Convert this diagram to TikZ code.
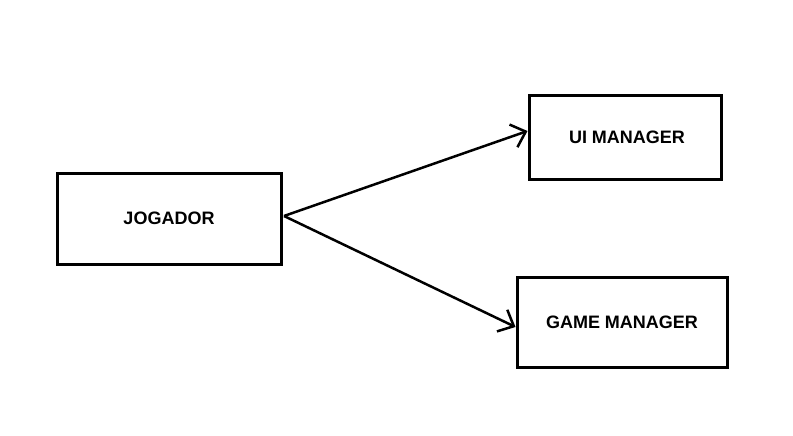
\documentclass[tikz,border=0pt]{standalone}
\usepackage{fontspec}
\setmainfont{Liberation Sans}
\usetikzlibrary{arrows.meta}
\begin{document}
\begin{tikzpicture}[x=1pt,y=-1pt,
  box/.style={draw,line width=3pt,rectangle,inner sep=0pt,font=\fontsize{18}{18}\selectfont\bfseries},
  conn/.style={line width=2.5pt,-{Straight Barb[length=13pt,width=24pt,line width=2.5pt]}}]
\useasboundingbox[fill=white] (0,0) rectangle (793,436);
\node[box,minimum width=224pt,minimum height=91pt] (jog) at (169,218.5) {\raisebox{0pt}{JOGADOR}};
\node[box,minimum width=192pt,minimum height=83pt] (ui) at (625,137.5) {\hspace*{4pt}UI MANAGER};
\node[box,minimum width=210pt,minimum height=90pt] (gm) at (622,322) {GAME MANAGER};
\coordinate (s) at (284,216);
\draw[conn] (s) -- (ui.west|-0,131);
\draw[conn] (s) -- (gm.west|-0,327);
\end{tikzpicture}
\end{document}
